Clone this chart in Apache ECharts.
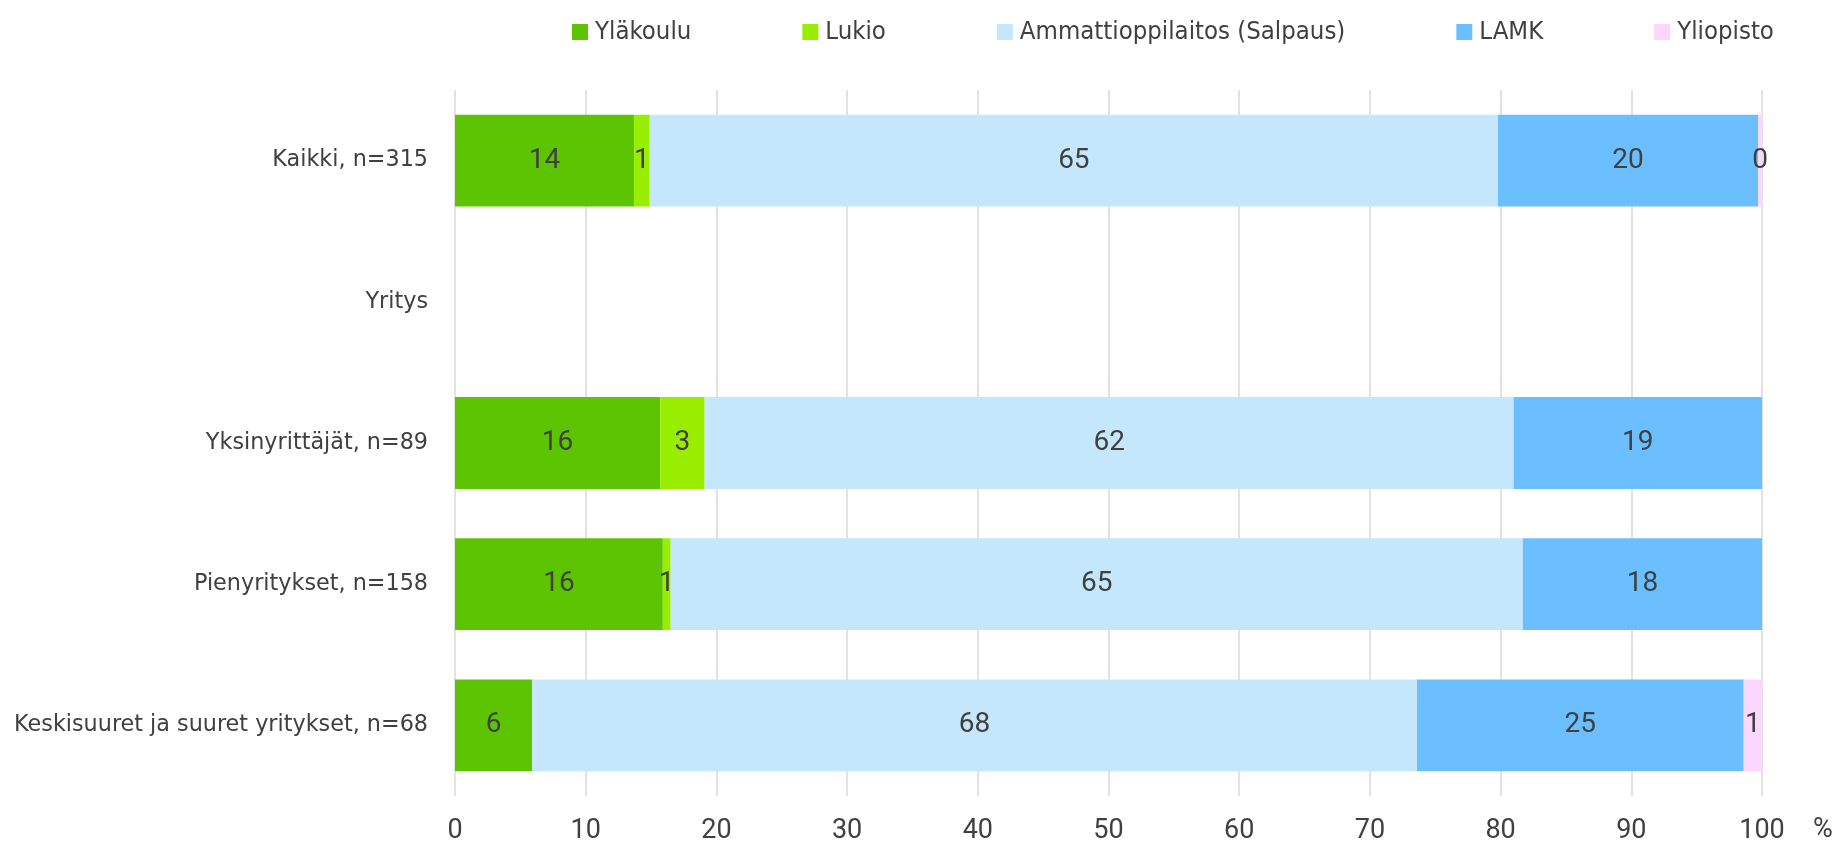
<!DOCTYPE html>
<html>
<head>
<meta charset="utf-8">
<script src="https://cdn.jsdelivr.net/npm/echarts@6/dist/echarts.min.js"></script>
<style>
  html, body { margin: 0; padding: 0; background: #fff; }
  #chart { width: 1838px; height: 845px; }
</style>
</head>
<body>
<div id="chart"></div>
<script>
  // rivit ylhäältä alas
  const categories = ['Kaikki, n=315', 'Yritys', 'Yksinyrittäjät, n=89', 'Pienyritykset, n=158', 'Keskisuuret ja suuret yritykset, n=68']
  const seriesNames = ['Yläkoulu', 'Lukio', 'Ammattioppilaitos (Salpaus)', 'LAMK', 'Yliopisto']
  const ylakoulu = [13.7, null, 15.7, 15.9, 5.9]
  const lukio = [1.2, null, 3.4, 0.6, null]
  const ammatti = [64.9, null, 61.9, 65.2, 67.7]
  const lamk = [19.9, null, 19.0, 18.3, 25.0]
  const yliopisto = [0.3, null, null, null, 1.4]
  const xTicks = [0, 10, 20, 30, 40, 50, 60, 70, 80, 90, 100]
  const colors = ['#5cc400', '#99ee00', '#c4e7fc', '#6bbfff', '#fcd6fc']

  const chart = echarts.init(document.getElementById('chart'))

  let seriesData = [ylakoulu, lukio, ammatti, lamk, yliopisto].map(function (vals, index) {
    return {
      name: seriesNames[index],
      type: 'bar',
      stack: 'total',
      barWidth: '65%',
      data: vals,
      itemStyle: { color: colors[index] },
      label: {
        show: true,
        position: 'inside',
        color: '#404040',
        fontFamily: 'Roboto',
        fontSize: 28,
        formatter: function (p) {
          return p.value == null ? '' : Math.round(p.value)
        }
      }
    }
  })

  let option = {
    animation: false,
    legend: {
      data: seriesNames,
      top: 14,
      left: 567,
      icon: 'rect',
      itemWidth: 16,
      itemHeight: 16,
      itemGap: 111,
      textStyle: {
        color: '#404040',
        fontFamily: 'DejaVu Sans Condensed',
        fontSize: 25.5,
        padding: [0, 0, 0, 2]
      }
    },
    grid: {
      top: 90,
      left: 455,
      right: 76,
      bottom: 47
    },
    xAxis: {
      type: 'value',
      min: xTicks[0],
      max: xTicks[xTicks.length - 1],
      interval: 10,
      name: '%',
      nameLocation: 'end',
      nameGap: 51,
      nameTextStyle: {
        color: '#404040',
        fontFamily: 'Roboto',
        fontSize: 27,
        verticalAlign: 'top',
        padding: [21, 0, 0, 0]
      },
      axisLine: { show: false },
      axisTick: { show: false },
      axisLabel: {
        color: '#404040',
        fontFamily: 'Roboto',
        fontSize: 27,
        margin: 22
      },
      splitLine: { lineStyle: { color: '#d9d9d9', width: 1.5 } }
    },
    yAxis: {
      type: 'category',
      inverse: true,
      data: categories,
      axisLine: { show: false },
      axisTick: { show: false },
      axisLabel: {
        color: '#404040',
        fontFamily: 'DejaVu Sans',
        fontSize: 22.3,
        margin: 27
      }
    },
    series: seriesData
  }
  chart.setOption(option)
</script>
</body>
</html>
